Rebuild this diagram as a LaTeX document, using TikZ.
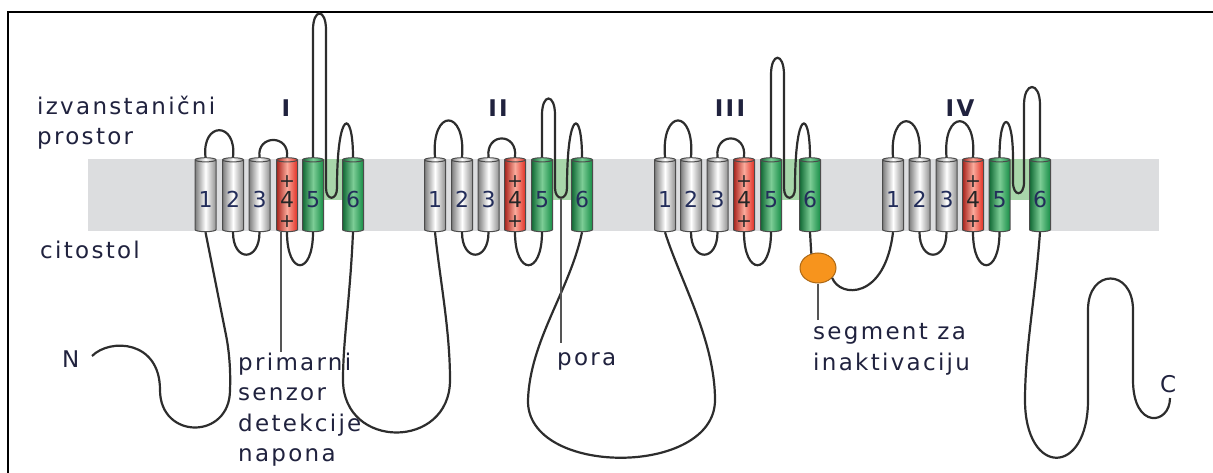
\documentclass[tikz,border=0pt]{standalone}
\usepackage{fontspec}
\setmainfont{DejaVu Sans}[LetterSpace=10]
\newfontfamily\numfont{DejaVu Sans}
\usetikzlibrary{shapes.geometric}
\definecolor{txt}{RGB}{32,34,62}
\definecolor{numcol}{RGB}{35,45,90}
\definecolor{membrane}{RGB}{220,221,223}
\definecolor{poregreen}{RGB}{168,214,170}
\definecolor{cylgrey}{RGB}{125,125,125}
\definecolor{cylgreen}{RGB}{22,140,70}
\definecolor{lightgreen}{RGB}{125,205,150}
\definecolor{cylred}{RGB}{225,45,35}
\definecolor{lightred}{RGB}{250,170,155}
\definecolor{inactcol}{RGB}{247,148,29}
\definecolor{chaincol}{RGB}{45,45,45}
\definecolor{ptrcol}{RGB}{85,85,85}
\begin{document}
\begin{tikzpicture}[x=1pt,y=-1pt]
        \tikzstyle{helix}=[cylinder,shape border rotate=90,aspect=0.3,minimum width=21pt,minimum height=74pt,inner sep=0pt,draw=black!70,line width=1pt,text height=24pt,text depth=0pt,font=\numfont\fontsize{22}{22}\selectfont,text=numcol]
        \tikzstyle{plain}=[helix,left color=cylgrey,right color=cylgrey!85,middle color=white]
        \tikzstyle{sensor}=[helix,left color=cylred!75!black,right color=cylred,middle color=lightred,text=black!85]
        \tikzstyle{porehx}=[helix,left color=cylgreen!75!black,right color=cylgreen,middle color=lightgreen]
        \tikzstyle{charge}=[font=\numfont\fontsize{19}{19}\selectfont,text=black!85,inner sep=0pt]
        \tikzstyle{chain}=[draw=chaincol,line width=2.2pt]
        \tikzstyle{pointer}=[draw=ptrcol,line width=1.6pt]
        \tikzstyle{lbl}=[font=\fontsize{23}{30.5}\selectfont,text=txt,inner sep=0pt,align=left,anchor=north west]
        \tikzstyle{dom}=[font=\bfseries\fontsize{23}{23}\selectfont,text=txt,inner sep=0pt]
        \useasboundingbox (0,0) rectangle (1213,473);
        \draw[line width=2pt] (8,473) -- (8,12) -- (1213,12);
        % membrane and pores
        \fill[membrane] (88,159) rectangle (1159,231);
        \fill[poregreen] (323,159) rectangle (343,200);
        \fill[white] (323,200) rectangle (343,231);
        \fill[poregreen] (552,159) rectangle (572,200);
        \fill[white] (552,200) rectangle (572,231);
        \fill[poregreen] (781,159) rectangle (800,200);
        \fill[white] (781,200) rectangle (800,231);
        \fill[poregreen] (1010,159) rectangle (1030,200);
        \fill[white] (1010,200) rectangle (1030,231);
        % domain I
        \node [plain] (a1) at (205.5,196) {1};
        \node [plain] (a2) at (233,196) {2};
        \node [plain] (a3) at (259.5,196) {3};
        \node [sensor] (a4) at (287,196) {4};
        \node [porehx] (a5) at (313,196) {5};
        \node [porehx] (a6) at (353,196) {6};
        % domain II
        \node [plain] (b1) at (435,196) {1};
        \node [plain] (b2) at (462,196) {2};
        \node [plain] (b3) at (488.5,196) {3};
        \node [sensor] (b4) at (515,196) {4};
        \node [porehx] (b5) at (542,196) {5};
        \node [porehx] (b6) at (582,196) {6};
        % domain III
        \node [plain] (c1) at (665,196) {1};
        \node [plain] (c2) at (691,196) {2};
        \node [plain] (c3) at (717.5,196) {3};
        \node [sensor] (c4) at (744,196) {4};
        \node [porehx] (c5) at (771,196) {5};
        \node [porehx] (c6) at (810,196) {6};
        % domain IV
        \node [plain] (d1) at (893,196) {1};
        \node [plain] (d2) at (919.5,196) {2};
        \node [plain] (d3) at (946.5,196) {3};
        \node [sensor] (d4) at (973,196) {4};
        \node [porehx] (d5) at (999.5,196) {5};
        \node [porehx] (d6) at (1040,196) {6};
        \foreach \d in {a,b,c,d} {
           \node [charge] (\d4up) at ([yshift=14pt]\d4.center) {+};
           \node [charge] (\d4lo) at ([yshift=-26pt]\d4.center) {+};
           \path[chain] (\d2.south) .. controls +(0,30) and +(0,30) .. (\d3.south);
           \path[chain] (\d4.south) .. controls +(0,44) and +(0,44) .. (\d5.south);
        }
        % extracellular loops
        \path[chain] (a1.north) .. controls +(-4,-36) and +(4,-36) .. (a2.north);
        \path[chain] (a3.north) .. controls +(-3,-23) and +(3,-23) .. (a4.north);
        \path[chain] (b1.north) .. controls +(-4,-49) and +(4,-49) .. (b2.north);
        \path[chain] (b3.north) .. controls +(-3,-25) and +(3,-25) .. (b4.north);
        \path[chain] (c1.north) .. controls +(-4,-49) and +(4,-49) .. (c2.north);
        \path[chain] (c3.north) .. controls +(-3,-25) and +(3,-25) .. (c4.north);
        \path[chain] (d1.north) .. controls +(-4,-48) and +(4,-48) .. (d2.north);
        \path[chain] (d3.north) .. controls +(-4,-48) and +(4,-48) .. (d4.north);
        % pore loops
        \coordinate (adip) at (331.5,198);
        \coordinate (bdip) at (561,198);
        \coordinate (cdip) at (789.5,198);
        \coordinate (ddip) at (1018.5,193);
        \path[chain] (a5.north) -- (313,30) .. controls (313,8) and (326,8) .. (326,30) -- (326,188)
           .. controls (326,201) and (337,201) .. (337,188) .. controls (337,108) and (353,108) .. (a6.north);
        \path[chain] (b5.north) -- (542,115) .. controls (542,93) and (555,93) .. (555,115) -- (555,188)
           .. controls (555,201) and (567,201) .. (567,188) .. controls (567,108) and (582,108) .. (b6.north);
        \path[chain] (c5.north) -- (771,75) .. controls (771,52) and (784,52) .. (784,75) -- (784,188)
           .. controls (784,201) and (795,201) .. (795,188) .. controls (795,108) and (810,108) .. (c6.north);
        \path[chain] (d5.north) .. controls (999.5,110) and (1013,110) .. (1013,159) -- (1013,182)
           .. controls (1013,197) and (1024,197) .. (1024,182) -- (1024,105) .. controls (1024,81) and (1040,81) .. (1040,105) -- (d6.north);
        % intracellular chain
        \coordinate (nterm) at (92,356);
        \coordinate (cterm) at (1170,398);
        \node [ellipse,draw=inactcol!70!black,line width=1pt,fill=inactcol,minimum width=36pt,minimum height=30pt,inner sep=0pt] (inact) at (818,268) {};
        \path[chain] (nterm) .. controls (110,338) and (160,340) .. (160,390) .. controls (160,440) and (230,440) .. (230,390)
           .. controls (231,365) and (228,345) .. (226,335) -- (a1.south);
        \path[chain] (a6.south) .. controls (350,300) and (343,340) .. (343,380) .. controls (343,450) and (450,450) .. (450,380)
           .. controls (450,330) and (440,280) .. (b1.south);
        \path[chain] (b6.south) .. controls (570,290) and (530,340) .. (528,400) .. controls (526,477) and (715,477) .. (715,400)
           .. controls (715,340) and (680,280) .. (c1.south);
        \path[chain] (c6.south) -- (inact.115);
        \path[chain] (inact.-35) .. controls (840,298) and (885,300) .. (d1.south);
        \path[chain] (d6.south) .. controls (1035,300) and (1025,350) .. (1025,400) .. controls (1025,477) and (1088,477) .. (1088,400)
           -- (1088,310) .. controls (1088,268) and (1133,268) .. (1133,310) -- (1133,380) .. controls (1133,430) and (1170,425) .. (cterm);
        % labels
        \node [dom] (domI) at (286,108.5) {I};
        \node [dom] (domII) at (498,108.5) {II};
        \node [dom] (domIII) at (730,108.5) {III};
        \node [dom] (domIV) at (960,108.5) {IV};
        \node [lbl] (outside) at (37,95.5) {izvanstanični\\prostor};
        \node [lbl] (cytosol) at (40,240.5) {citostol};
        \node [lbl] (nlbl) at (62,351) {N};
        \node [lbl] (clbl) at (1160,375) {C};
        \node [lbl] (sensorlbl) at (238,352.5) {primarni\\senzor\\detekcije\\napona};
        \node [lbl] (poralbl) at (557,352.5) {pora};
        \node [lbl] (seglbl) at (813,323.5) {segment za\\inaktivaciju};
        \coordinate (sensend) at (281,352);
        \coordinate (poraend) at (561,343);
        \coordinate (segend) at (818,320);
        \path[pointer] ([xshift=-6pt]a4.south) -- (sensend);
        \path[pointer] (bdip) -- (poraend);
        \path[pointer] (inact.south) -- (segend);
      \end{tikzpicture}
\end{document}
